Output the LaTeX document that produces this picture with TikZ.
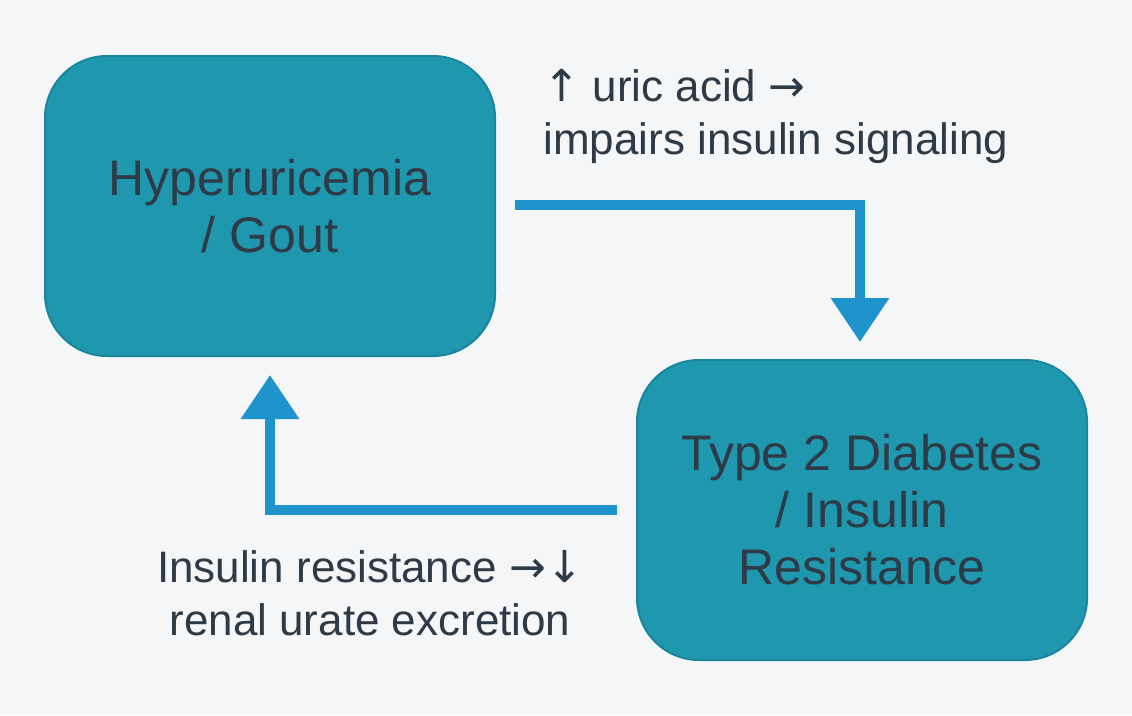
\documentclass[tikz,border=0pt]{standalone}
\usepackage{fontspec}
\setmainfont{Liberation Sans}
\newfontfamily\arr{DejaVu Sans}
\usetikzlibrary{arrows.meta}
\definecolor{boxfill}{HTML}{1F97AF}
\definecolor{boxline}{HTML}{1A869E}
\definecolor{txt}{HTML}{2E3A46}
\definecolor{arrc}{HTML}{1E93CC}
\definecolor{bg}{HTML}{F4F6F7}
\begin{document}
\begin{tikzpicture}[x=1pt,y=-1pt,
  box/.style={draw=boxline,line width=2pt,fill=boxfill,rounded corners=62pt,minimum width=450pt,minimum height=300pt,text=txt,font=\fontsize{50}{57}\selectfont,align=center},
  conn/.style={draw=arrc,line width=10pt,-{Triangle[length=44pt,width=56pt]}},
  lab/.style={text=txt,font=\fontsize{44}{53}\selectfont}]
\fill[bg] (0,0) rectangle (1132,715);
\useasboundingbox (0,0) rectangle (1132,715);
\node[box] (hyp) at (270,206) {Hyperuricemia\\/ Gout};
\node[box] (t2d) at (862,510) {Type 2 Diabetes\\/ Insulin\\Resistance};
\coordinate (s1) at (515,205);
\coordinate (s2) at (617,510);
\draw[conn] (s1) -| (860,342);
\draw[conn] (s2) -| (270,375);
\node[lab,align=left,anchor=north west] (l1) at (540,66) {{\arr↑} uric acid {\arr→}\\impairs insulin signaling};
\node[lab,align=center] (l2) at (370,593) {Insulin resistance {\arr→}{\arr↓}\\renal urate excretion};
\end{tikzpicture}
\end{document}
